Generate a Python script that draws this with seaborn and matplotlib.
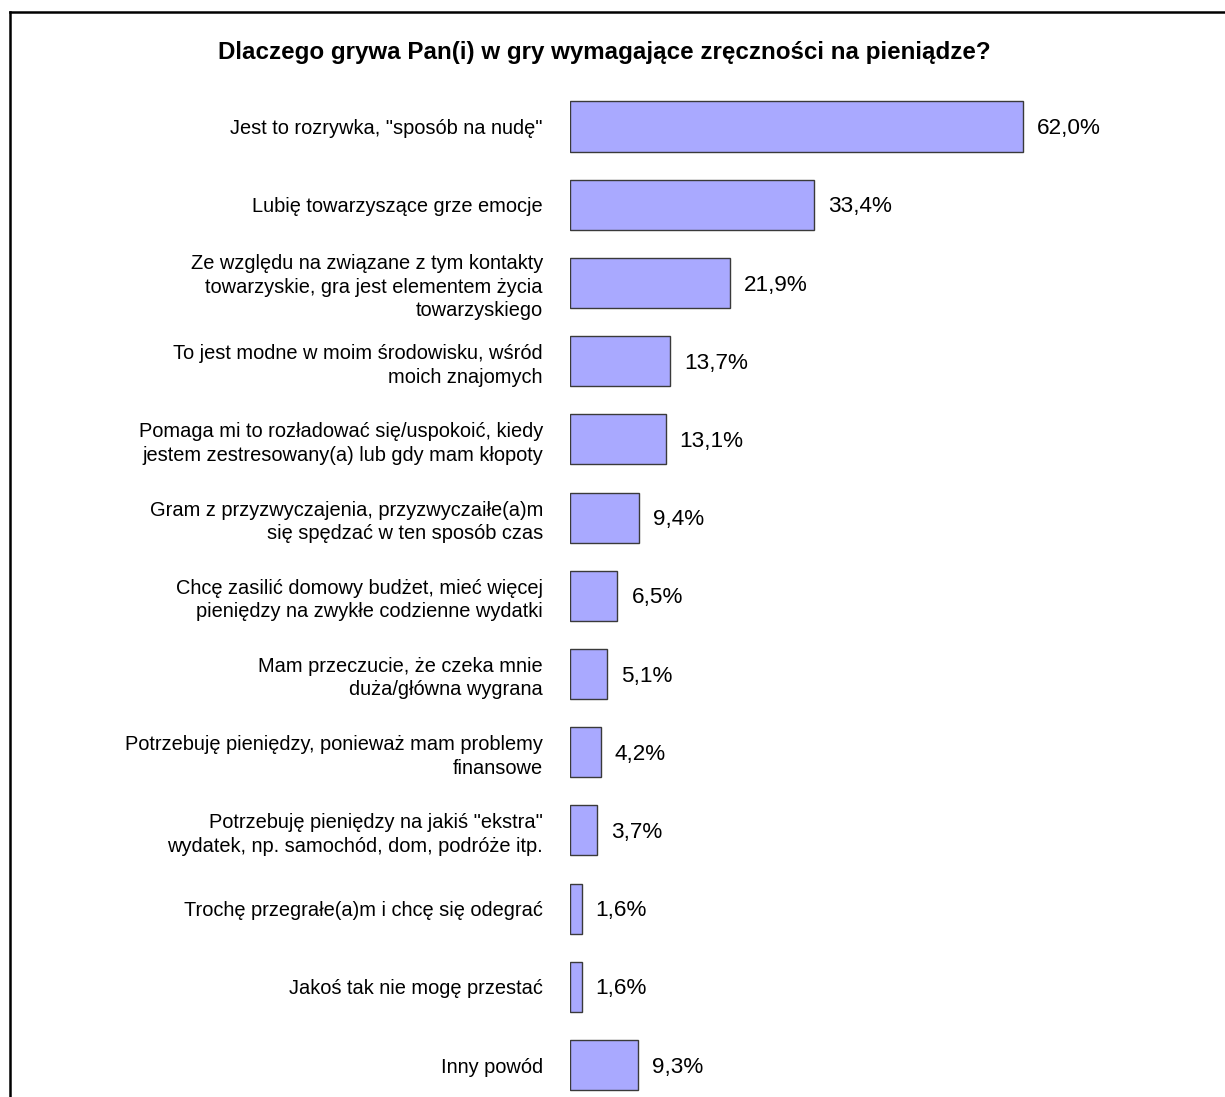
import matplotlib
matplotlib.use("Agg")
import matplotlib.pyplot as plt
from matplotlib.lines import Line2D
import seaborn as sns
import pandas as pd

title = "Dlaczego grywa Pan(i) w gry wymagające zręczności na pieniądze?"

reasons = [
    'Jest to rozrywka, "sposób na nudę"',
    "Lubię towarzyszące grze emocje",
    "Ze względu na związane z tym kontakty\ntowarzyskie, gra jest elementem życia\ntowarzyskiego",
    "To jest modne w moim środowisku, wśród\nmoich znajomych",
    "Pomaga mi to rozładować się/uspokoić, kiedy\njestem zestresowany(a) lub gdy mam kłopoty",
    "Gram z przyzwyczajenia, przyzwyczaiłe(a)m\nsię spędzać w ten sposób czas",
    "Chcę zasilić domowy budżet, mieć więcej\npieniędzy na zwykłe codzienne wydatki",
    "Mam przeczucie, że czeka mnie\nduża/główna wygrana",
    "Potrzebuję pieniędzy, ponieważ mam problemy\nfinansowe",
    'Potrzebuję pieniędzy na jakiś "ekstra"\nwydatek, np. samochód, dom, podróże itp.',
    "Trochę przegrałe(a)m i chcę się odegrać",
    "Jakoś tak nie mogę przestać",
    "Inny powód",
]
percent = [62.0, 33.4, 21.9, 13.7, 13.1, 9.4, 6.5, 5.1, 4.2, 3.7, 1.6, 1.6, 9.3]

sns.set_style("white")
plt.rcParams["font.family"] = ["Liberation Sans", "DejaVu Sans"]
plt.rcParams["text.color"] = "black"
plt.rcParams["ytick.color"] = "black"

W, H = 1225, 1097
fig = plt.figure(figsize=(W / 100, H / 100), dpi=100)

# axes placed so that the bars start at the label column and run to the right edge
left_px, top_px = 570, 87.4
ax = fig.add_axes([left_px / W, 0, 1 - left_px / W, (H - top_px) / H])

df = pd.DataFrame({"reason": reasons, "pct": percent})
sns.barplot(data=df, x="pct", y="reason", orient="h", color="#A9A9FF",
            saturation=1, width=0.64, edgecolor="#3a3a3a", linewidth=1.0, ax=ax)

ax.set_xlim(0, 89.65)
ax.set_ylim(12.409, -0.5)
ax.set_xlabel("")
ax.set_ylabel("")
ax.set_xticks([])
for s in ax.spines.values():
    s.set_visible(False)
ax.tick_params(axis="y", length=0, pad=19.5, labelsize=14.4, labelcolor="black")
for lbl in ax.get_yticklabels():
    lbl.set_multialignment("right")
    lbl.set_linespacing(1.3)

for i, v in enumerate(percent):
    ax.annotate(f"{v:.1f}%".replace(".", ","), xy=(v, i), xytext=(10, -1.5),
                textcoords="offset points", va="center", ha="left", fontsize=16.2,
                color="black")

fig.text(604 / W, 1 - 53 / H, title, ha="center", va="center",
         fontsize=17.4, fontweight="bold", color="black")

# frame lines along the top and left side
fig.add_artist(Line2D([9.5 / W, 9.5 / W], [0, 1 - 11.5 / H], transform=fig.transFigure,
                      color="black", lw=1.8, solid_capstyle="projecting"))
fig.add_artist(Line2D([9.5 / W, 1], [1 - 11.5 / H, 1 - 11.5 / H], transform=fig.transFigure,
                      color="black", lw=1.8, solid_capstyle="projecting"))

fig.savefig("out.png", dpi=100, facecolor="white")
